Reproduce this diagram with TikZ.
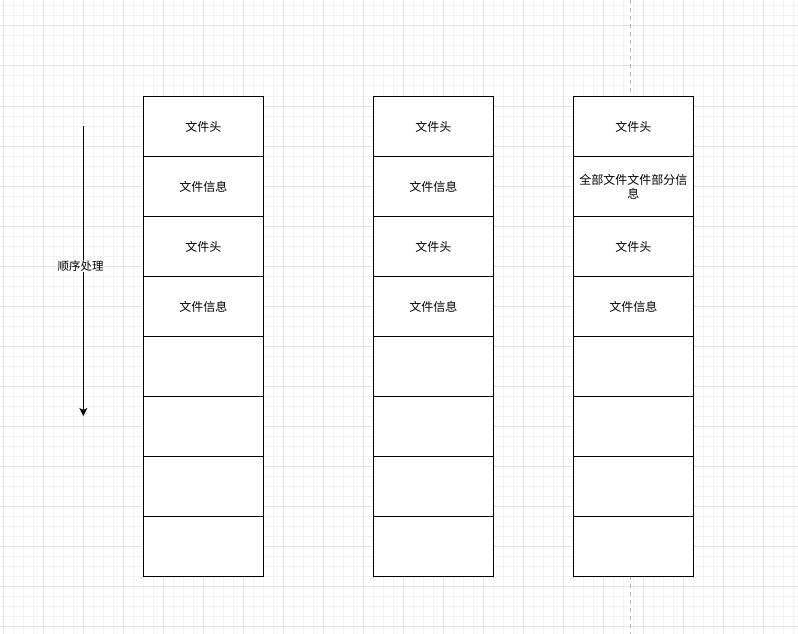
\documentclass[tikz,border=0pt]{standalone}
\usepackage{fontspec}
\setmainfont{Noto Sans CJK SC}
\usetikzlibrary{arrows.meta}
\definecolor{gridminor}{HTML}{F3F3F3}
\definecolor{gridmajor}{HTML}{E4E4E4}
\definecolor{pageline}{HTML}{B8B8B8}
\tikzset{
  cell/.style={draw=black, line width=1pt, fill=white, minimum width=120pt, minimum height=60pt, inner sep=0pt, outer sep=0pt, anchor=north west, font=\fontsize{12pt}{14pt}\selectfont, align=center},
  flowarrow/.style={draw=black, line width=1pt, -{Stealth[length=8pt,width=8pt,inset=2pt]}},
  arrowlabel/.style={fill=white, inner sep=1pt, font=\fontsize{11.5pt}{14pt}\selectfont}
}
\begin{document}
\begin{tikzpicture}[x=1pt,y=-1pt]
\useasboundingbox (0,0) rectangle (798,634);
\fill[white] (0,0) rectangle (798,634);
% minor grid
\foreach \gx in {3.3,13.3,...,798} \draw[gridminor, line width=1pt] (\gx,0) -- (\gx,634);
\foreach \gy in {6,16,...,634} \draw[gridminor, line width=1pt] (0,\gy) -- (798,\gy);
% major grid
\foreach \gx in {3.3,43.3,...,798} \draw[gridmajor, line width=1pt] (\gx,0) -- (\gx,634);
\foreach \gy in {26,66,...,634} \draw[gridmajor, line width=1pt] (0,\gy) -- (798,\gy);
% page boundary
\draw[pageline, line width=1pt, dash pattern=on 4pt off 4pt] (630.5,0) -- (630.5,634);
% column 1
\node[cell] (a1) at (143.3,96.5) {文件头};
\node[cell] (a2) at (143.3,156.5) {文件信息};
\node[cell] (a3) at (143.3,216.5) {文件头};
\node[cell] (a4) at (143.3,276.5) {文件信息};
\node[cell] (a5) at (143.3,336.5) {};
\node[cell] (a6) at (143.3,396.5) {};
\node[cell] (a7) at (143.3,456.5) {};
\node[cell] (a8) at (143.3,516.5) {};
% column 2
\node[cell] (b1) at (373.3,96.5) {文件头};
\node[cell] (b2) at (373.3,156.5) {文件信息};
\node[cell] (b3) at (373.3,216.5) {文件头};
\node[cell] (b4) at (373.3,276.5) {文件信息};
\node[cell] (b5) at (373.3,336.5) {};
\node[cell] (b6) at (373.3,396.5) {};
\node[cell] (b7) at (373.3,456.5) {};
\node[cell] (b8) at (373.3,516.5) {};
% column 3
\node[cell] (c1) at (573.3,96.5) {文件头};
\node[cell] (c2) at (573.3,156.5) {全部文件文件部分信\\息};
\node[cell] (c3) at (573.3,216.5) {文件头};
\node[cell] (c4) at (573.3,276.5) {文件信息};
\node[cell] (c5) at (573.3,336.5) {};
\node[cell] (c6) at (573.3,396.5) {};
\node[cell] (c7) at (573.3,456.5) {};
\node[cell] (c8) at (573.3,516.5) {};
% arrow
\coordinate (arrtop) at (83.3,126);
\coordinate (arrbot) at (83.3,416);
\draw[flowarrow] (arrtop) -- (arrbot);
\node[arrowlabel] (arrlbl) at (80.5,266) {顺序处理};
\end{tikzpicture}
\end{document}
